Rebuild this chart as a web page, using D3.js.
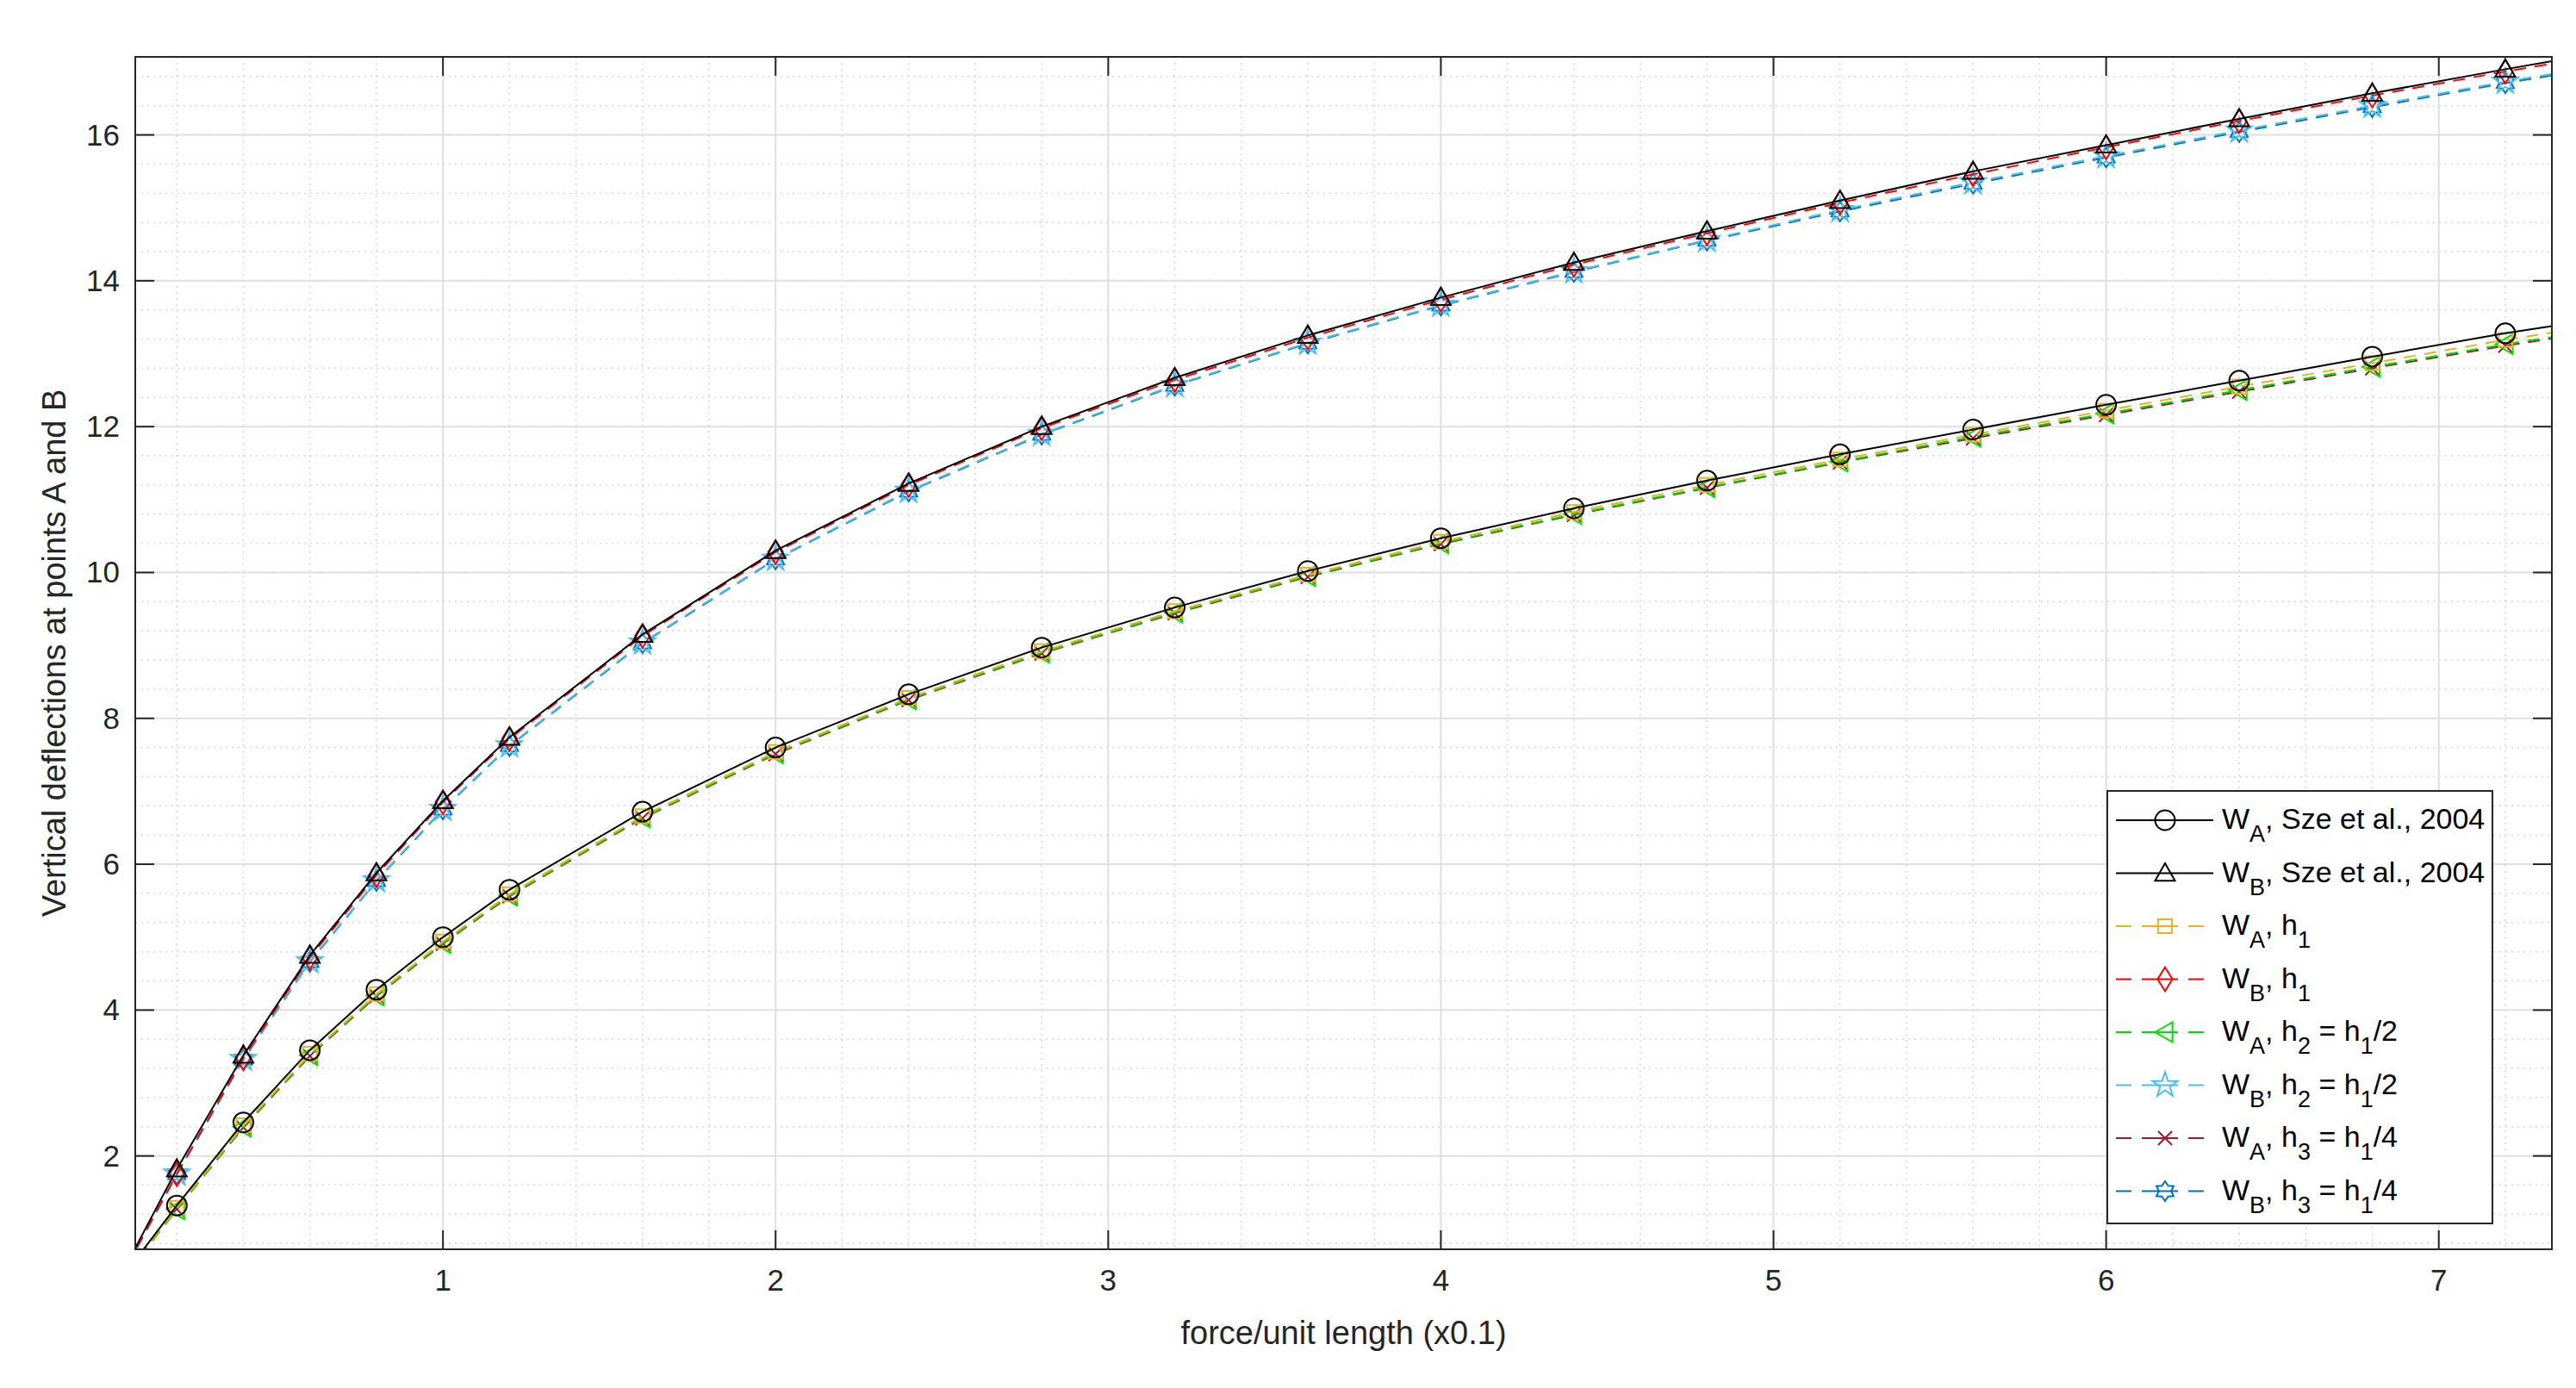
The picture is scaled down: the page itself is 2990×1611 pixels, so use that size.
<!DOCTYPE html><html><head><meta charset="utf-8">
<script src="https://cdn.jsdelivr.net/npm/d3@7"></script>
<style>body{margin:0;background:#fff}text{font-family:"Liberation Sans",Arial,sans-serif}</style></head><body>
<svg id="c" width="2990" height="1611"></svg>
<script>
const xs=[0.05,0.2,0.4,0.6,0.8,1.0,1.2,1.6,2.0,2.4,2.8,3.2,3.6,4.0,4.4,4.8,5.2,5.6,6.0,6.4,6.8,7.2,7.4];
const wA_sze=[0.42,1.32,2.46,3.45,4.28,5.00,5.65,6.72,7.60,8.33,8.97,9.52,10.02,10.47,10.88,11.26,11.62,11.96,12.30,12.63,12.96,13.28,13.42];
const wB_sze=[0.52,1.82,3.38,4.75,5.88,6.87,7.74,9.15,10.30,11.22,12.00,12.67,13.25,13.77,14.25,14.68,15.10,15.50,15.86,16.22,16.57,16.90,17.06];
const wA_h1=[0.40,1.29,2.42,3.40,4.22,4.94,5.59,6.66,7.54,8.28,8.92,9.47,9.97,10.42,10.83,11.20,11.55,11.89,12.22,12.55,12.87,13.19,13.33];
const wB_h1=[0.50,1.75,3.34,4.72,5.85,6.85,7.72,9.13,10.28,11.20,11.98,12.64,13.22,13.74,14.22,14.65,15.07,15.46,15.83,16.19,16.54,16.87,17.02];
const wA_h2=[0.39,1.27,2.40,3.38,4.20,4.92,5.57,6.64,7.52,8.26,8.90,9.45,9.95,10.40,10.80,11.17,11.52,11.86,12.18,12.50,12.82,13.13,13.27];
const wB_h2=[0.49,1.76,3.33,4.67,5.78,6.76,7.63,9.04,10.19,11.12,11.90,12.57,13.15,13.67,14.13,14.56,14.97,15.35,15.71,16.06,16.40,16.73,16.88];
const wA_h3=[0.39,1.27,2.39,3.37,4.19,4.91,5.56,6.63,7.51,8.25,8.89,9.44,9.94,10.39,10.79,11.16,11.51,11.84,12.16,12.48,12.80,13.11,13.25];
const wB_h3=[0.48,1.75,3.32,4.66,5.77,6.75,7.62,9.03,10.18,11.11,11.89,12.56,13.14,13.66,14.12,14.55,14.95,15.33,15.69,16.04,16.38,16.71,16.86];
const xTicks=[1,2,3,4,5,6,7], yTicks=[2,4,6,8,10,12,14,16];
const series=[
 {v:wA_sze,c:"#000",d:null,m:"circle",lab:["W","A",", Sze et al., 2004"]},
 {v:wB_sze,c:"#000",d:null,m:"triangle",lab:["W","B",", Sze et al., 2004"]},
 {v:wA_h1,c:"#EDB120",d:"14,10",m:"square",lab:["W","A",", h","1",""]},
 {v:wB_h1,c:"#FF0000",d:"14,10",m:"diamond",lab:["W","B",", h","1",""]},
 {v:wA_h2,c:"#00E000",d:"14,10",m:"tri-left",lab:["W","A",", h","2"," = h","1","/2"]},
 {v:wB_h2,c:"#4DBEEE",d:"14,10",m:"star",lab:["W","B",", h","2"," = h","1","/2"]},
 {v:wA_h3,c:"#A2142F",d:"14,10",m:"x",lab:["W","A",", h","3"," = h","1","/4"]},
 {v:wB_h3,c:"#0072BD",d:"14,10",m:"hex",lab:["W","B",", h","3"," = h","1","/4"]}];
const L=157,R=2962,T=66,B=1450;
const svg=d3.select("#c");
const x=d3.scaleLinear().domain([0.075,7.34]).range([L,R]);
const y=d3.scaleLinear().domain([0.72,17.07]).range([B,T]);
const g=svg.append("g");
const xm=d3.range(0.2,7.34,0.2), ym=d3.range(0.8,17.07,0.4);
g.selectAll(".xm").data(xm).enter().append("line").attr("x1",d=>x(d)).attr("x2",d=>x(d)).attr("y1",T).attr("y2",B).attr("stroke","#d6d6d6").attr("stroke-width",1.5).attr("stroke-dasharray","2,5");
g.selectAll(".ym").data(ym).enter().append("line").attr("y1",d=>y(d)).attr("y2",d=>y(d)).attr("x1",L).attr("x2",R).attr("stroke","#d6d6d6").attr("stroke-width",1.5).attr("stroke-dasharray","2,5");
g.selectAll(".xg").data(xTicks).enter().append("line").attr("x1",d=>x(d)).attr("x2",d=>x(d)).attr("y1",T).attr("y2",B).attr("stroke","#e0e0e0").attr("stroke-width",2);
g.selectAll(".yg").data(yTicks).enter().append("line").attr("y1",d=>y(d)).attr("y2",d=>y(d)).attr("x1",L).attr("x2",R).attr("stroke","#e0e0e0").attr("stroke-width",2);
svg.append("clipPath").attr("id","cp").append("rect").attr("x",L).attr("y",T).attr("width",R-L).attr("height",B-T);
const plot=svg.append("g").attr("clip-path","url(#cp)");
function mk(sel,m,c,s){
 const r=s/2;
 if(m==="circle") sel.append("circle").attr("r",r).attr("fill","none").attr("stroke",c).attr("stroke-width",2);
 else {
  let p;
  if(m==="triangle") p=`M0,${-r}L${r},${r*0.75}L${-r},${r*0.75}Z`;
  else if(m==="square") p=`M${-r*0.7},${-r*0.7}h${r*1.4}v${r*1.4}h${-r*1.4}Z`;
  else if(m==="diamond") p=`M0,${-r*1.2}L${r*0.75},0L0,${r*1.2}L${-r*0.75},0Z`;
  else if(m==="tri-left") p=`M${-r},0L${r*0.75},${-r}L${r*0.75},${r}Z`;
  else if(m==="x") p=`M${-r*0.7},${-r*0.7}L${r*0.7},${r*0.7}M${-r*0.7},${r*0.7}L${r*0.7},${-r*0.7}`;
  else if(m==="star") p=d3.symbol(d3.symbolStar,s*s*0.5)();
  else {
   let a=[];for(let i=0;i<12;i++){const rr=i%2?r*0.62:r;const t=Math.PI/6*i;a.push([rr*Math.sin(t),-rr*Math.cos(t)]);}
   p="M"+a.map(q=>q.join(",")).join("L")+"Z";}
  sel.append("path").attr("d",p).attr("fill","none").attr("stroke",c).attr("stroke-width",2);
 }
}
const line=d3.line().x((d,i)=>x(xs[i])).y(d=>y(d)).curve(d3.curveLinear);
series.slice().reverse().forEach(s=>{
 plot.append("path").attr("d",line(s.v)).attr("fill","none").attr("stroke",s.c).attr("stroke-width",2).attr("stroke-dasharray",s.d);
 s.v.forEach((v,i)=>{ if(i===0||i===xs.length-1) return;
  const gg=plot.append("g").attr("transform",`translate(${x(xs[i])},${y(v)})`); mk(gg,s.m,s.c,23);});
});
svg.append("rect").attr("x",L).attr("y",T).attr("width",R-L).attr("height",B-T).attr("fill","none").attr("stroke","#262626").attr("stroke-width",2);
const tl=22;
xTicks.forEach(t=>{svg.append("line").attr("x1",x(t)).attr("x2",x(t)).attr("y1",B).attr("y2",B-tl).attr("stroke","#262626").attr("stroke-width",2);
 svg.append("line").attr("x1",x(t)).attr("x2",x(t)).attr("y1",T).attr("y2",T+tl).attr("stroke","#262626").attr("stroke-width",2);
 svg.append("text").attr("x",x(t)).attr("y",B+48).attr("text-anchor","middle").attr("font-size",35).attr("fill","#262626").text(t);});
yTicks.forEach(t=>{svg.append("line").attr("y1",y(t)).attr("y2",y(t)).attr("x1",L).attr("x2",L+tl).attr("stroke","#262626").attr("stroke-width",2);
 svg.append("line").attr("y1",y(t)).attr("y2",y(t)).attr("x1",R).attr("x2",R-tl).attr("stroke","#262626").attr("stroke-width",2);
 svg.append("text").attr("x",L-18).attr("y",y(t)+12).attr("text-anchor","end").attr("font-size",35).attr("fill","#262626").text(t);});
svg.append("text").attr("x",(L+R)/2).attr("y",1560).attr("text-anchor","middle").attr("font-size",38).attr("fill","#262626").text("force/unit length (x0.1)");
svg.append("text").attr("transform",`translate(76,${(T+B)/2}) rotate(-90)`).attr("text-anchor","middle").attr("font-size",38).attr("fill","#262626").text("Vertical deflections at points A and B");
const lx=2446,ly=918,lw=447,rh=61.5;
svg.append("rect").attr("x",lx).attr("y",ly).attr("width",lw).attr("height",rh*8+10).attr("fill","#fff").attr("stroke","#262626").attr("stroke-width",2);
series.forEach((s,i)=>{
 const cy=ly+34+i*rh;
 svg.append("line").attr("x1",lx+10).attr("x2",lx+123).attr("y1",cy).attr("y2",cy).attr("stroke",s.c).attr("stroke-width",2).attr("stroke-dasharray",s.d?"18,12,42,12":null);
 mk(svg.append("g").attr("transform",`translate(${lx+67},${cy})`),s.m,s.c,23);
 const t=svg.append("text").attr("x",lx+133).attr("y",cy+10).attr("font-size",34).attr("fill","#000");
 s.lab.forEach((p,k)=>{const ts=t.append("tspan").text(p);
  if(k%2===1){ts.attr("font-size",27).attr("dy",15);} else if(k>0){ts.attr("dy",-15);} });
});
</script></body></html>
